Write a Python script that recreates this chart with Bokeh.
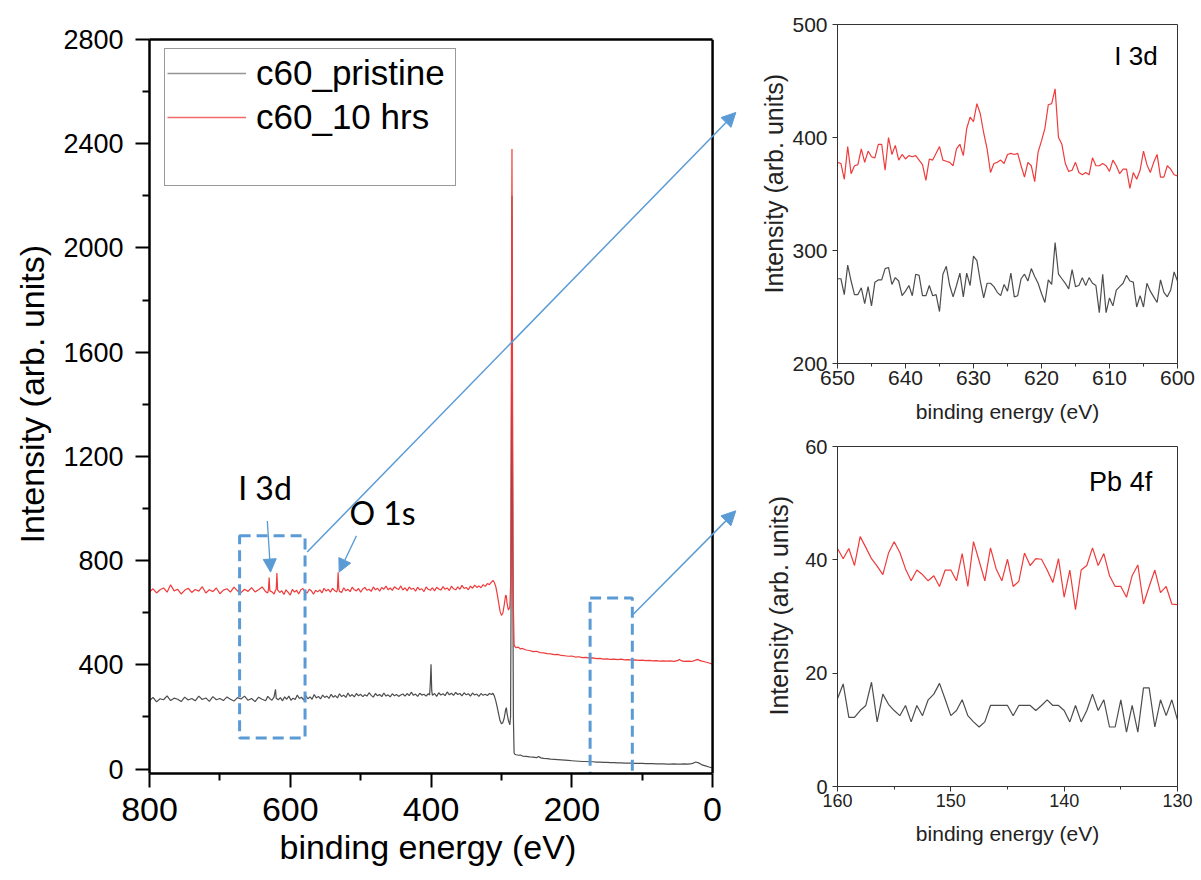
from bokeh.plotting import figure
from bokeh.layouts import row, column
from bokeh.models import (Range1d, LinearAxis, FixedTicker, Legend, LegendItem, Span,
                          Arrow, NormalHead, ColumnDataSource, Title)
from bokeh.core.properties import value
from bokeh.embed import file_html
from bokeh.resources import INLINE

FONT = "Liberation Sans"
LABEL_FONT = "Lato"
RED = "#ef3b3b"
GRAY = "#4d4d4d"
BLUE = "#5b9bd5"

# ---------------- survey spectrum (binding energy in eV, intensity) ----------------
red_ev = [
    800, 795, 790, 785, 780, 775, 770, 765, 760, 755,
    750, 745, 740, 735, 730, 725, 720, 715, 710, 705,
    700, 695, 690, 685, 680, 675, 670, 665, 660, 655,
    650, 645, 640, 635, 632, 631, 630, 629, 626, 623,
    621, 620, 619, 618, 615, 612, 609, 606, 603, 600,
    597, 594, 591, 588, 585, 582, 579, 576, 573, 570,
    567, 564, 561, 558, 555, 552, 549, 546, 543, 540,
    537, 534, 533, 532, 531, 530, 527, 524, 521, 518,
    515, 512, 509, 506, 503, 500, 497, 494, 491, 488,
    485, 482, 479, 476, 473, 470, 467, 464, 461, 458,
    455, 452, 449, 446, 443, 440, 437, 434, 431, 428,
    425, 422, 419, 416, 413, 410, 407, 404, 401, 398,
    395, 392, 389, 386, 383, 380, 377, 374, 371, 368,
    365, 362, 359, 356, 353, 350, 347, 344, 341, 338,
    335, 332, 329, 326, 323, 320, 317, 314, 312, 310,
    308, 306, 304, 302, 300, 298, 296, 294, 293, 292,
    290, 288, 287, 286, 285, 284, 283, 282, 281, 279,
    276, 273, 270, 265, 260, 255, 250, 245, 240, 235,
    230, 225, 220, 215, 210, 205, 200, 195, 190, 185,
    180, 175, 170, 165, 160, 155, 150, 145, 140, 135,
    130, 125, 120, 115, 110, 105, 100, 95, 90, 85,
    80, 75, 70, 65, 60, 55, 50, 47, 44, 40,
    35, 30, 27, 24, 21, 18, 15, 10, 5, 0,
]
red_counts = [
    680, 692, 676, 688, 695, 679, 707, 684, 690, 672,
    686, 694, 678, 689, 683, 700, 676, 688, 681, 695,
    673, 687, 692, 679, 698, 684, 677, 690, 682, 696,
    680, 688, 699, 681, 676, 690, 735, 684, 680, 672,
    686, 690, 752, 688, 678, 684, 670, 688, 678, 668,
    690, 679, 686, 672, 688, 693, 680, 676, 690, 684,
    671, 686, 680, 688, 676, 694, 683, 690, 679, 694,
    685, 680, 690, 755, 692, 682, 678, 696, 684, 690,
    681, 698, 688, 684, 693, 679, 691, 697, 686, 690,
    682, 699, 688, 694, 683, 697, 690, 702, 688, 695,
    686, 700, 693, 689, 703, 687, 696, 684, 699, 690,
    694, 683, 698, 688, 692, 681, 699, 690, 686, 696,
    684, 698, 691, 687, 700, 690, 695, 685, 702, 692,
    688, 699, 690, 705, 693, 697, 688, 702, 694, 706,
    697, 703, 696, 708, 701, 712, 708, 718, 724, 716,
    700, 672, 640, 606, 590, 598, 630, 668, 664, 636,
    610, 622, 700, 1450, 2380, 1250, 620, 478, 470, 466,
    468, 461, 463, 457, 455, 451, 452, 447, 446, 443,
    442, 439, 440, 436, 435, 433, 434, 430, 431, 428,
    429, 426, 427, 424, 425, 422, 423, 421, 422, 420,
    422, 419, 420, 418, 419, 417, 418, 416, 417, 415,
    416, 414, 415, 414, 415, 413, 416, 421, 415, 413,
    414, 413, 415, 418, 421, 416, 414, 411, 407, 403,
]
gray_ev = [
    800, 795, 790, 785, 780, 775, 770, 765, 760, 755,
    750, 745, 740, 735, 730, 725, 720, 715, 710, 705,
    700, 695, 690, 685, 680, 675, 670, 665, 660, 655,
    650, 645, 640, 635, 632, 629, 626, 623, 621, 620,
    617, 614, 611, 608, 605, 602, 599, 596, 593, 590,
    587, 584, 581, 578, 575, 572, 569, 566, 563, 560,
    557, 554, 551, 548, 545, 542, 539, 536, 533, 530,
    527, 524, 521, 518, 515, 512, 509, 506, 503, 500,
    497, 494, 491, 488, 485, 482, 479, 476, 473, 470,
    467, 464, 461, 458, 455, 452, 449, 446, 443, 440,
    437, 434, 431, 428, 425, 422, 419, 416, 413, 410,
    407, 404, 402, 401, 400, 399, 398, 395, 392, 389,
    386, 383, 380, 377, 374, 371, 368, 365, 362, 359,
    356, 353, 350, 347, 344, 341, 338, 335, 332, 329,
    326, 323, 320, 317, 314, 312, 310, 308, 306, 304,
    302, 300, 298, 296, 294, 293, 292, 290, 288, 287,
    286, 285, 284, 283, 282, 281, 279, 276, 273, 270,
    265, 260, 255, 250, 247, 244, 240, 235, 230, 225,
    220, 215, 210, 205, 200, 195, 190, 185, 180, 175,
    170, 165, 160, 155, 150, 145, 140, 135, 130, 125,
    120, 115, 110, 105, 100, 95, 90, 85, 80, 75,
    70, 65, 60, 55, 50, 45, 40, 35, 30, 27,
    24, 21, 18, 15, 10, 5, 0,
]
gray_counts = [
    262, 275, 258, 270, 266, 281, 263, 272, 268, 259,
    276, 265, 271, 262, 280, 267, 273, 260, 278, 266,
    271, 263, 277, 268, 261, 274, 269, 280, 264, 271,
    259, 276, 268, 262, 279, 270, 264, 277, 306, 272,
    266, 274, 262, 277, 268, 280, 264, 272, 267, 284,
    271, 276, 265, 282, 270, 277, 268, 286, 273, 279,
    269, 284, 275, 280, 271, 287, 276, 282, 273, 289,
    278, 284, 275, 292, 279, 286, 277, 290, 281, 287,
    278, 285, 280, 293, 283, 276, 290, 281, 286, 278,
    292, 280, 285, 277, 289, 281, 286, 279, 284, 288,
    280, 290, 282, 295, 283, 288, 279, 291, 284, 287,
    280, 289, 284, 330, 402, 300, 283, 290, 279, 293,
    284, 289, 282, 296, 285, 291, 283, 294, 286, 290,
    281, 293, 285, 289, 280, 292, 284, 288, 279, 290,
    283, 287, 282, 290, 286, 291, 280, 262, 238, 212,
    186, 174, 178, 196, 228, 236, 214, 186, 170, 200,
    850, 2200, 900, 200, 62, 57, 55, 53, 54, 50,
    49, 47, 46, 44, 48, 43, 41, 40, 38, 37,
    36, 35, 34, 33, 32, 31, 30, 29, 29, 28,
    28, 27, 27, 26, 26, 25, 25, 24, 24, 23,
    23, 23, 22, 22, 22, 21, 21, 21, 20, 20,
    20, 19, 19, 20, 19, 19, 20, 19, 21, 23,
    27, 25, 21, 16, 12, 8, 4,
]

series_names = ["c60_pristine", "c60_10 hrs"]

survey_x_span = (800, 0)
survey_y_span = (-17, 2800)
survey_x_ticks = [800, 600, 400, 200, 0]
survey_x_minor = [700, 500, 300, 100]
survey_y_ticks = [0, 400, 800, 1200, 1600, 2000, 2400, 2800]
survey_y_minor = [200, 600, 1000, 1400, 1800, 2200, 2600]

# dashed zoom windows on the survey
zoom_hi_ev = [672, 174]
zoom_lo_ev = [579, 114]
zoom_top = [895, 657]
zoom_bottom = [119, -25]

# arrows from zoom windows towards the insets
link_x0 = [576, 113]
link_y0 = [833, 593]
link_x1 = [-33, -33]
link_y1 = [2520, 991]

# peak labels on the survey
peak_labels = ["I 3d", "O 1s"]
peak_label_x = [674, 516]
peak_label_y = [1082, 985]
peak_arrow_x0 = [632.6, 506]
peak_arrow_y0 = [952, 895]
peak_arrow_x1 = [628, 530.5]
peak_arrow_y1 = [756, 756]

# ---------------- I 3d inset ----------------
i3d_energy = [650 - 0.5 * k for k in range(101)]
i3d_red = [
    378, 377, 363, 392, 368, 375, 376, 390, 378, 388,
    383, 382, 394, 394, 371, 400, 385, 393, 380, 385,
    381, 384, 383, 384, 380, 376, 362, 381, 380, 386,
    392, 380, 379, 378, 375, 390, 394, 384, 408, 418,
    414, 430, 421, 404, 390, 369, 377, 378, 380, 377,
    385, 386, 385, 386, 375, 365, 378, 375, 361, 387,
    397, 408, 429, 430, 443, 400, 394, 377, 370, 371,
    378, 369, 367, 369, 367, 382, 375, 375, 377, 375,
    370, 380, 375, 368, 372, 372, 355, 369, 363, 371,
    388, 376, 369, 378, 385, 365, 365, 375, 372, 367,
    366,
]
i3d_gray = [
    275, 275, 261, 287, 273, 261, 261, 267, 253, 268,
    251, 272, 274, 274, 284, 285, 270, 276, 273, 260,
    264, 269, 260, 279, 278, 260, 260, 269, 260, 261,
    246, 279, 286, 269, 259, 269, 280, 259, 280, 269,
    295, 291, 273, 258, 271, 271, 268, 263, 260, 270,
    264, 280, 259, 260, 275, 279, 273, 284, 277, 271,
    262, 254, 274, 270, 307, 279, 275, 271, 266, 283,
    268, 269, 276, 269, 276, 271, 269, 245, 279, 245,
    258, 251, 265, 268, 271, 278, 273, 272, 250, 260,
    250, 271, 264, 259, 254, 274, 263, 259, 265, 281,
    273,
]
i3d_x_span = (650, 600)
i3d_y_span = (200, 500)
i3d_x_ticks = [650, 640, 630, 620, 610, 600]
i3d_x_minor = [645, 635, 625, 615, 605]
i3d_y_ticks = [200, 300, 400, 500]
i3d_tag = ["I 3d"]
i3d_tag_x = [609.3]
i3d_tag_y = [472]

# ---------------- Pb 4f inset ----------------
pb_energy = [160 - 0.5 * k for k in range(61)]
pb_red = [
    42.0, 40.2, 42.0, 39.0, 44.1, 42.2, 40.2, 38.9, 37.4, 41.2,
    43.2, 41.3, 38.4, 36.3, 38.2, 37.4, 36.3, 37.2, 35.3, 38.2,
    38.2, 36.3, 41.1, 35.3, 43.2, 39.8, 36.3, 42.1, 38.4, 36.3,
    40.1, 35.3, 36.2, 41.2, 39.0, 40.2, 40.1, 38.2, 36.0, 40.2,
    33.4, 38.2, 31.2, 38.2, 39.0, 42.1, 39.0, 41.1, 37.2, 35.3,
    35.3, 33.4, 37.2, 39.1, 32.2, 35.3, 38.2, 34.2, 35.3, 32.2,
    32.1,
]
pb_gray = [
    15.5, 18.1, 12.2, 12.2, 13.4, 14.3, 18.4, 11.4, 16.3, 14.5,
    13.4, 12.5, 14.3, 11.4, 14.3, 12.5, 15.3, 16.3, 18.2, 15.4,
    12.5, 13.4, 15.3, 12.5, 11.4, 10.5, 11.4, 14.3, 14.3, 14.3,
    14.3, 12.5, 14.3, 14.3, 14.3, 13.4, 14.3, 15.3, 14.3, 14.3,
    13.4, 11.4, 14.3, 11.4, 13.4, 16.3, 13.4, 15.3, 10.5, 10.5,
    15.3, 9.6, 14.3, 9.6, 17.4, 17.4, 10.5, 15.3, 12.5, 15.3,
    11.7,
]
pb_x_span = (160, 130)
pb_y_span = (0, 60)
pb_x_ticks = [160, 150, 140, 130]
pb_x_minor = [155, 145, 135]
pb_y_ticks = [0, 20, 40, 60]
pb_tag = ["Pb 4f"]
pb_tag_x = [137.8]
pb_tag_y = [53.7]

# ============================ survey figure ============================
EXTRA_EV = 56.74  # extra frame room right of 0 eV so the linking arrows fit
p = figure(width=752, height=880, output_backend="svg", toolbar_location=None,
           x_range=Range1d(survey_x_span[0], survey_x_span[1] - EXTRA_EV),
           y_range=Range1d(*survey_y_span),
           min_border_left=148, min_border_right=0, min_border_top=39, min_border_bottom=107)
p.outline_line_color = None
p.xgrid.visible = False
p.ygrid.visible = False

xa = p.xaxis[0]
ya = p.yaxis[0]
for ax in (xa, ya):
    ax.axis_line_width = 2.5
    ax.axis_line_color = "black"
    ax.major_tick_line_width = 2
    ax.minor_tick_line_width = 2
    ax.major_tick_line_color = "black"
    ax.minor_tick_line_color = "black"
    ax.major_tick_out = 14
    ax.major_tick_in = 0
    ax.minor_tick_out = 7
    ax.minor_tick_in = 0
    ax.major_label_text_font = FONT
    ax.major_label_text_color = "black"
xa.ticker = FixedTicker(ticks=survey_x_ticks, minor_ticks=survey_x_minor)
xa.bounds = (min(survey_x_span), max(survey_x_span))
xa.major_label_text_font_size = "34px"
xa.major_label_standoff = 10
ya.ticker = FixedTicker(ticks=survey_y_ticks, minor_ticks=survey_y_minor)
ya.major_label_text_font_size = "27px"
ya.major_label_standoff = 12

top_axis = LinearAxis(ticker=FixedTicker(ticks=[]), bounds=(min(survey_x_span), max(survey_x_span)),
                      axis_line_width=2.5, axis_line_color="black",
                      major_tick_line_color=None, minor_tick_line_color=None)
p.add_layout(top_axis, "above")
p.add_layout(Span(location=survey_x_span[1], dimension="height", line_color="black", line_width=2.5))

p.add_layout(Title(text="binding energy (eV)", align="left", offset=130, text_font=FONT,
                   text_font_size="34px", text_font_style="normal", text_color="black",
                   standoff=5), "below")
p.add_layout(Title(text="Intensity (arb. units)", align="left", offset=230, text_font=FONT,
                   text_font_size="34px", text_font_style="normal", text_color="black",
                   standoff=20), "left")

g_line = p.line(gray_ev, gray_counts, line_color=GRAY, line_width=1.2)
r_line = p.line(red_ev, red_counts, line_color=RED, line_width=1.2)

# legend samples: hidden copies of the two series (only their legend glyph is drawn)
g_key = p.line(gray_ev, gray_counts, line_color="#959595", line_width=1.6, visible=False)
r_key = p.line(red_ev, red_counts, line_color="#f26b6b", line_width=1.6, visible=False)
blank = p.line(gray_ev, gray_counts, line_alpha=0, visible=False)

p.quad(left=zoom_hi_ev, right=zoom_lo_ev, top=zoom_top, bottom=zoom_bottom,
       fill_color=None, line_color=BLUE, line_width=3, line_dash="11 6")

link_src = ColumnDataSource(dict(x0=link_x0, y0=link_y0, x1=link_x1, y1=link_y1))
p.add_layout(Arrow(source=link_src, x_start="x0", y_start="y0", x_end="x1", y_end="y1",
                   line_color=BLUE, line_width=1.5,
                   end=NormalHead(size=14, fill_color=BLUE, line_color=BLUE, line_width=1)))
peak_src = ColumnDataSource(dict(x0=peak_arrow_x0, y0=peak_arrow_y0, x1=peak_arrow_x1, y1=peak_arrow_y1))
p.add_layout(Arrow(source=peak_src, x_start="x0", y_start="y0", x_end="x1", y_end="y1",
                   line_color=BLUE, line_width=1.3,
                   end=NormalHead(size=13, fill_color=BLUE, line_color=BLUE, line_width=1)))

p.text(x=peak_label_x, y=peak_label_y, text=peak_labels, text_font=value(LABEL_FONT),
       text_font_size="32px", text_align="left", text_baseline="alphabetic", text_color="black")

legend = Legend(items=[LegendItem(label=series_names[0], renderers=[g_key]),
                       LegendItem(label=series_names[1], renderers=[r_key]),
                       LegendItem(label=" ", renderers=[blank])],
                location=(15, 587), orientation="vertical", click_policy="none",
                border_line_color="#333333", border_line_width=1,
                background_fill_color="white", background_fill_alpha=1,
                label_text_font=FONT, label_text_font_size="35px", label_text_color="black",
                padding=2, spacing=0, margin=0, glyph_width=79, glyph_height=20,
                label_standoff=10, label_height=44, label_width=197)
p.add_layout(legend)


# ============================ insets ============================
def make_inset(height, x_span, y_span, x_ticks, x_minor, y_ticks, borders, xfont, yfont,
               ytitle_offset, ytitle_standoff, xtitle_standoff):
    left, right, top, bottom = borders
    f = figure(width=449, height=height, output_backend="svg", toolbar_location=None,
               x_range=Range1d(*x_span), y_range=Range1d(*y_span),
               min_border_left=left, min_border_right=right,
               min_border_top=top, min_border_bottom=bottom)
    f.outline_line_color = "#333333"
    f.outline_line_width = 1
    f.xgrid.visible = False
    f.ygrid.visible = False
    fx = f.xaxis[0]
    fy = f.yaxis[0]
    for ax in (fx, fy):
        ax.axis_line_color = "#333333"
        ax.axis_line_width = 1
        ax.major_tick_line_color = "#333333"
        ax.minor_tick_line_color = "#333333"
        ax.major_tick_out = 5
        ax.major_tick_in = 0
        ax.minor_tick_out = 3
        ax.minor_tick_in = 0
        ax.major_label_text_font = FONT
        ax.major_label_text_color = "#222222"
    fx.ticker = FixedTicker(ticks=x_ticks, minor_ticks=x_minor)
    fy.ticker = FixedTicker(ticks=y_ticks, minor_ticks=[])
    fx.major_label_text_font_size = xfont
    fy.major_label_text_font_size = yfont
    fx.major_label_standoff = 2
    fy.major_label_standoff = 5
    fx.axis_label = "binding energy (eV)"
    fx.axis_label_text_font = FONT
    fx.axis_label_text_font_size = "21px"
    fx.axis_label_text_font_style = "normal"
    fx.axis_label_text_color = "#222222"
    fx.axis_label_standoff = xtitle_standoff
    f.add_layout(Title(text="Intensity (arb. units)", align="left", offset=ytitle_offset,
                       text_font=FONT, text_font_size="25px", text_font_style="normal",
                       text_color="#222222", standoff=ytitle_standoff), "left")
    return f


top = make_inset(430, i3d_x_span, i3d_y_span, i3d_x_ticks, i3d_x_minor, i3d_y_ticks,
                 (79, 24, 24, 67), "21px", "21px", 70, 4, 12)
top.line(i3d_energy, i3d_gray, line_color=GRAY, line_width=1.2)
top.line(i3d_energy, i3d_red, line_color=RED, line_width=1.2)
top.text(x=i3d_tag_x, y=i3d_tag_y, text=i3d_tag, text_font=value(FONT), text_font_size="26px",
         text_align="left", text_baseline="alphabetic", text_color="black")

bottom = make_inset(450, pb_x_span, pb_y_span, pb_x_ticks, pb_x_minor, pb_y_ticks,
                    (81, 23, 16, 94), "18px", "20px", 71, 20, 12)
bottom.line(pb_energy, pb_gray, line_color=GRAY, line_width=1.2)
bottom.line(pb_energy, pb_red, line_color=RED, line_width=1.2)
bottom.text(x=pb_tag_x, y=pb_tag_y, text=pb_tag, text_font=value(FONT), text_font_size="27px",
            text_align="left", text_baseline="alphabetic", text_color="black")

layout = row(p, column(top, bottom))
open("out.html", "w").write(file_html(layout, INLINE))
